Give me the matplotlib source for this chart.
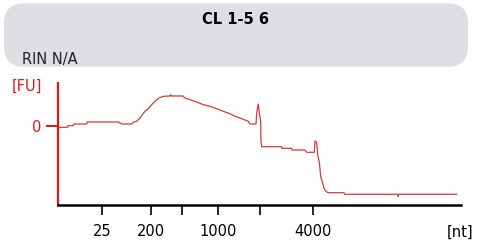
import matplotlib
matplotlib.use("Agg")
import matplotlib.pyplot as plt
from matplotlib.patches import FancyBboxPatch
from matplotlib.transforms import IdentityTransform

plt.rcParams["font.family"] = ["DejaVu Sans"]

# electropherogram trace: migration position (arbitrary units) vs fluorescence [FU]
pos = [0, 0.67, 2.34, 2.41, 3.65, 3.9, 7.06, 7.13, 14.91, 15.33, 15.83, 18.24,
       18.56, 19.48, 20.3, 20.87, 21.55, 22.37, 23.21, 23.61, 24.45, 25.02,
       26.09, 27.76, 27.93, 28.13, 30.99, 31.49, 32.73, 34.39, 36.03, 37.7,
       39.36, 41.0, 42.67, 43.91, 45.58, 47.22, 47.64, 49.13, 49.3, 49.7,
       49.95, 50.3, 50.37, 50.55, 55.52, 55.59, 58.0, 58.08, 61.31, 61.73,
       63.62, 63.79, 64.21, 64.46, 64.86, 65.21, 65.61, 66.03, 66.45, 67.02,
       71.0, 71.2, 84.4, 84.49, 84.57, 99.0]
fu = [-0.2, -0.13, -0.13, 0.03, 0.03, 0.2, 0.2, 0.4, 0.4, 0.3, 0.2, 0.2,
      0.37, 0.47, 0.8, 1.13, 1.47, 1.73, 2.13, 2.3, 2.63, 2.8,
      2.97, 3.0, 3.13, 3.0, 3.0, 2.8, 2.63, 2.4, 2.13, 1.97,
      1.73, 1.47, 1.23, 0.97, 0.73, 0.47, 0.2, 0.2, 1.3, 2.2,
      1.3, 0.47, -1.57, -2.07, -2.07, -2.23, -2.23, -2.4, -2.4, -2.63,
      -2.63, -1.5, -1.63, -2.9, -3.57, -5.07, -5.57, -6.23, -6.5, -6.67,
      -6.67, -6.83, -6.83, -7.07, -6.83, -6.83]

tick_pos = [10.93, 22.96, 30.82, 39.76, 50.12, 63.22]
tick_labels = ["25", "200", "", "1000", "", "4000"]

title = "CL 1-5 6"
rin_text = "RIN N/A"

RED = "#e3141c"
FS = 10.5

fig = plt.figure(figsize=(4.82, 2.48), dpi=100)

# grey header box (pixel coordinates)
box = FancyBboxPatch((4, 248 - 66.7), 464, 63.4,
                     boxstyle="round,pad=0,rounding_size=20",
                     transform=IdentityTransform(), facecolor="#dfdfe3",
                     edgecolor="none")
fig.patches.append(box)
fig.text(236 / 482, 1 - 19 / 248, title, ha="center", va="center",
         fontsize=FS, fontweight="bold", color="black")
fig.text(22 / 482, 1 - 59.5 / 248, rin_text, ha="left", va="center",
         fontsize=FS, color="#222222")

ax = fig.add_axes([58.3 / 482, 43 / 248, 402.4 / 482, 122 / 248])
ax.plot(pos, fu, color="#d43a3a", lw=0.9)
ax.set_xlim(0, 100)
ax.set_ylim(-7.9, 4.3)

for s in ("top", "right"):
    ax.spines[s].set_visible(False)
ax.spines["left"].set_color(RED)
ax.spines["left"].set_linewidth(1.6)
ax.spines["bottom"].set_color("black")
ax.spines["bottom"].set_linewidth(1.8)

ax.set_xticks(tick_pos)
ax.set_xticklabels(tick_labels)
ax.tick_params(axis="x", direction="out", length=7, width=1.2, pad=7,
               labelsize=FS, colors="black")
ax.set_yticks([0])
ax.set_yticklabels(["0"])
ax.tick_params(axis="y", direction="out", length=9, width=1.4, pad=3,
               labelsize=FS, colors=RED)

fig.text(41.7 / 482, 1 - 86.7 / 248, "[FU]", ha="right", va="center",
         fontsize=FS, color=RED)
fig.text(473 / 482, 1 - 232 / 248, "[nt]", ha="right", va="center",
         fontsize=FS, color="black")

fig.savefig("out.png", dpi=100)
